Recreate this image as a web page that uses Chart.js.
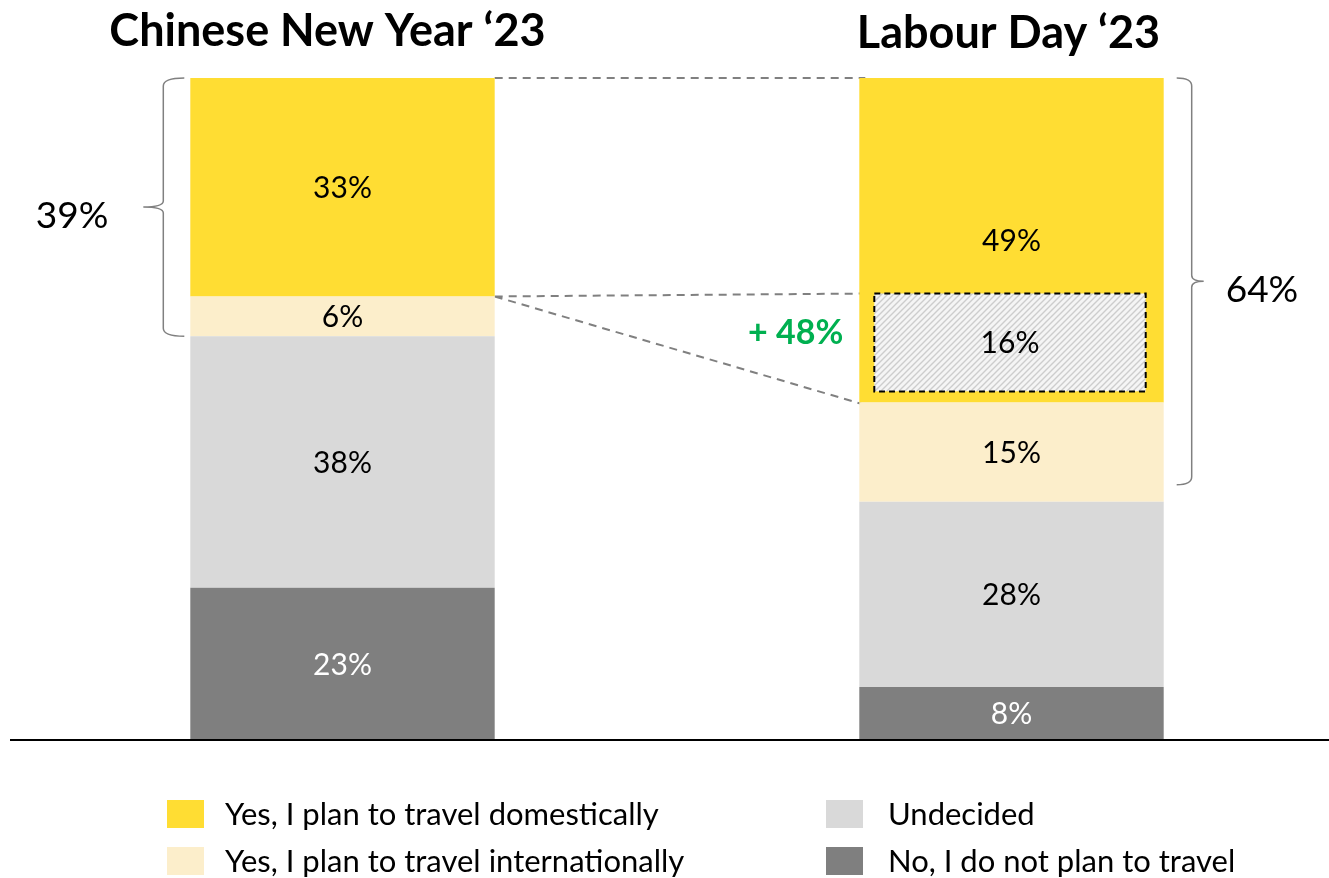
<!DOCTYPE html>
<html>
<head>
<meta charset="utf-8">
<script src="https://cdn.jsdelivr.net/npm/chart.js@4.4.0/dist/chart.umd.min.js"></script>
<style>
  html, body { margin: 0; padding: 0; background: #fff; overflow: hidden; }
  #wrap { width: 1346px; height: 878px; position: relative; }
</style>
</head>
<body>
<div id="wrap"><canvas id="travelChart"></canvas></div>
<script>
// survey answers per holiday, stacked bottom -> top
const holidays = ["Chinese New Year ‘23", "Labour Day ‘23"];
const seriesNames = [
  "No, I do not plan to travel",
  "Undecided",
  "Yes, I plan to travel internationally",
  "Yes, I plan to travel domestically"
];
const noTravel = [23, 8];
const undecided = [38, 28];
const international = [6, 15];
const domestic = [33, 49];
const colours = ["#7F7F7F", "#D9D9D9", "#FCEECB", "#FFDD33"];

// legend grid: columns of dataset indexes
const legendColumns = [[3, 2], [1, 0]];

const FONT = "Lato, 'Noto Sans', sans-serif";

// diagonal hatch for the growth box
const hatchTile = (() => {
  const c = document.createElement("canvas");
  c.width = 6; c.height = 6;
  const g = c.getContext("2d");
  g.fillStyle = "#F5F5F5";
  g.fillRect(0, 0, 6, 6);
  g.strokeStyle = "#CDCDCD";
  g.lineWidth = 1.4;
  g.beginPath();
  g.moveTo(0, 6); g.lineTo(6, 0);
  g.moveTo(-1, 1); g.lineTo(1, -1);
  g.moveTo(5, 7); g.lineTo(7, 5);
  g.stroke();
  return c;
})();

function barProps(chart, ds, idx) {
  return chart.getDatasetMeta(ds).data[idx].getProps(["x", "y", "base", "width"], true);
}

function growthBox(chart) {
  const y = chart.scales.y;
  const b = barProps(chart, 3, 1);
  const baseVal = noTravel[1] + undecided[1] + international[1];
  const diff = domestic[1] - domestic[0];
  return {
    left: b.x - b.width / 2 + 15,
    right: b.x + b.width / 2 - 18,
    top: y.getPixelForValue(baseVal + diff) - 3,
    bottom: y.getPixelForValue(baseVal) - 11
  };
}

function brace(ctx, xEnd, xv, xTip, top, bottom) {
  const mid = (top + bottom) / 2;
  ctx.beginPath();
  ctx.moveTo(xEnd, top);
  ctx.quadraticCurveTo(xv, top, xv, top + 8);
  ctx.lineTo(xv, mid - 6);
  ctx.quadraticCurveTo(xv, mid, xTip, mid);
  ctx.quadraticCurveTo(xv, mid, xv, mid + 6);
  ctx.lineTo(xv, bottom - 8);
  ctx.quadraticCurveTo(xv, bottom, xEnd, bottom);
  ctx.stroke();
}

const connectors = {
  id: "connectors",
  beforeDatasetsDraw(chart) {
    const ctx = chart.ctx;
    const a = barProps(chart, 3, 0);
    const b = barProps(chart, 3, 1);
    const box = growthBox(chart);
    const aRight = a.x + a.width / 2;
    const bLeft = b.x - b.width / 2;
    ctx.save();
    ctx.strokeStyle = "#808080";
    ctx.lineWidth = 2;
    ctx.setLineDash([8, 6]);
    ctx.beginPath();
    ctx.moveTo(aRight, a.y); ctx.lineTo(bLeft + 6, b.y);
    ctx.moveTo(aRight, a.base); ctx.lineTo(box.left, box.top);
    ctx.moveTo(aRight, a.base); ctx.lineTo(bLeft + 4, b.base + 2);
    ctx.stroke();
    ctx.restore();
  },
  afterDatasetsDraw(chart) {
    const ctx = chart.ctx;
    const area = chart.chartArea;
    const y = chart.scales.y;
    ctx.save();

    // baseline
    ctx.strokeStyle = "#000";
    ctx.lineWidth = 2;
    ctx.beginPath();
    ctx.moveTo(area.left + 2, y.getPixelForValue(0));
    ctx.lineTo(area.right, y.getPixelForValue(0));
    ctx.stroke();

    // growth box
    const box = growthBox(chart);
    ctx.fillStyle = ctx.createPattern(hatchTile, "repeat");
    ctx.fillRect(box.left, box.top, box.right - box.left, box.bottom - box.top);
    ctx.strokeStyle = "#000";
    ctx.lineWidth = 2;
    ctx.setLineDash([6, 4]);
    ctx.strokeRect(box.left, box.top, box.right - box.left, box.bottom - box.top);
    ctx.setLineDash([]);

    // segment labels
    ctx.textAlign = "center";
    ctx.textBaseline = "middle";
    ctx.font = "30px " + FONT;
    chart.data.datasets.forEach((ds, i) => {
      ds.data.forEach((v, j) => {
        const p = barProps(chart, i, j);
        ctx.fillStyle = i === 0 ? "#FFFFFF" : "#000000";
        ctx.fillText(v + "%", p.x, (p.y + p.base) / 2 + 1);
      });
    });

    const diff = domestic[1] - domestic[0];
    ctx.fillStyle = "#000";
    ctx.fillText(diff + "%", (box.left + box.right) / 2, (box.top + box.bottom) / 2 + 1);

    ctx.font = "bold 34px " + FONT;
    ctx.fillStyle = "#00B050";
    ctx.textAlign = "right";
    const growth = Math.round(diff / domestic[0] * 100);
    ctx.fillText("+ " + growth + "%", box.left - 31, (box.top + box.bottom) / 2 - 9);

    // titles
    ctx.fillStyle = "#000";
    ctx.textAlign = "center";
    ctx.font = "bold 45px " + FONT;
    const titleShift = [-15, -3];
    holidays.forEach((h, j) => {
      const p = barProps(chart, 3, j);
      ctx.fillText(h, p.x + titleShift[j], 31 + 2 * j);
    });

    // "yes" totals with braces
    ctx.strokeStyle = "#808080";
    ctx.lineWidth = 1.5;
    ctx.font = "37px " + FONT;
    ctx.fillStyle = "#000";
    const a = barProps(chart, 2, 0);
    const aTop = barProps(chart, 3, 0);
    const aLeft = a.x - a.width / 2;
    brace(ctx, aLeft - 6, aLeft - 27, aLeft - 47, aTop.y, a.base);
    ctx.textAlign = "right";
    ctx.fillText((domestic[0] + international[0]) + "%", aLeft - 82, (aTop.y + a.base) / 2 + 9);

    const b = barProps(chart, 2, 1);
    const bTop = barProps(chart, 3, 1);
    const bRight = b.x + b.width / 2;
    const bBottom = b.base - 17;
    brace(ctx, bRight + 13, bRight + 28, bRight + 40, bTop.y, bBottom);
    ctx.textAlign = "left";
    ctx.fillText((domestic[1] + international[1]) + "%", bRight + 62, (bTop.y + bBottom) / 2 + 9);

    // legend
    ctx.font = "31px " + FONT;
    ctx.textAlign = "left";
    const colX = [167, 826];
    const rowY = [814, 861];
    const textGap = [58, 62];
    legendColumns.forEach((col, c) => {
      col.forEach((di, r) => {
        ctx.fillStyle = colours[di];
        ctx.fillRect(colX[c], rowY[r] - 14, 37, 28);
        ctx.fillStyle = "#000";
        ctx.fillText(seriesNames[di], colX[c] + textGap[c], rowY[r] + 1);
      });
    });

    ctx.restore();
  }
};

const seriesValues = [noTravel, undecided, international, domestic];

new Chart(document.getElementById("travelChart"), {
  type: "bar",
  data: {
    labels: holidays,
    datasets: seriesValues.map((vals, i) => ({
      label: seriesNames[i],
      data: vals,
      backgroundColor: colours[i],
      borderWidth: 0,
      barPercentage: 0.455,
      categoryPercentage: 1
    }))
  },
  options: {
    responsive: true,
    maintainAspectRatio: false,
    animation: false,
    layout: { padding: { left: 8, right: 0, top: 78, bottom: 138 } },
    plugins: {
      legend: { display: false },
      tooltip: { enabled: false }
    },
    scales: {
      x: { display: false, stacked: true },
      y: { display: false, stacked: true, min: 0, max: 100 }
    }
  },
  plugins: [connectors]
});
</script>
</body>
</html>
